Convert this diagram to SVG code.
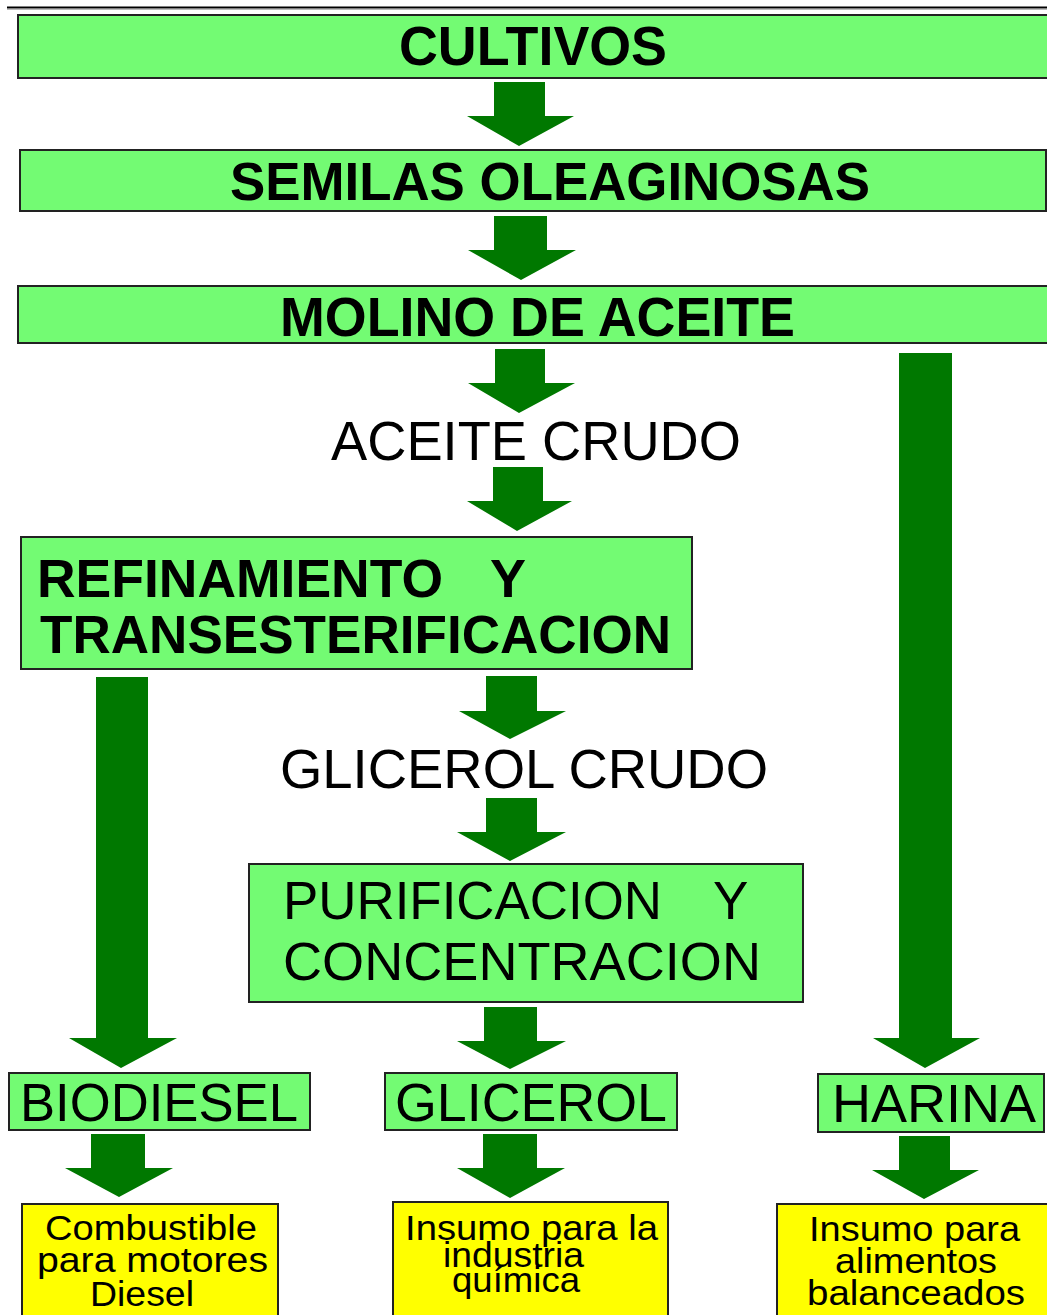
<svg xmlns="http://www.w3.org/2000/svg" width="1047" height="1315" viewBox="0 0 1047 1315">
<style>
.g{fill:#73FB73;stroke:#222;stroke-width:2}
.y{fill:#FFFF00;stroke:#222;stroke-width:2}
.t{font-family:"Liberation Sans",Arial,sans-serif;fill:#000}
.b{font-weight:bold}
.a{fill:#007800}
</style>
<rect width="1047" height="1315" fill="#fff"/>
<line x1="7" y1="7.5" x2="1047" y2="7.5" stroke="#000" stroke-width="2"/>
<line x1="7" y1="9.5" x2="1047" y2="9.5" stroke="#bbb" stroke-width="1"/>

<g id="connectors">
<polygon class="a" points="494,82 545,82 545,116 574,116 519,146 467,116 494,116"/>
<polygon class="a" points="494,216 547,216 547,250 576,250 521,280 468,250 494,250"/>
<polygon class="a" points="495,349 545,349 545,383 575,383 519,413 468,383 495,383"/>
<polygon class="a" points="493,467 543,467 543,501 572,501 517,531 467,501 493,501"/>
<polygon class="a" points="486,676 537,676 537,711 566,711 510,739 459,711 486,711"/>
<polygon class="a" points="486,798 537,798 537,832 566,832 510,861 457,832 486,832"/>
<polygon class="a" points="484,1007 537,1007 537,1041 566,1041 510,1069 457,1041 484,1041"/>
<polygon class="a" points="96,677 148,677 148,1038 177,1038 121,1068 69,1038 96,1038"/>
<polygon class="a" points="899,353 952,353 952,1038 980,1038 925,1068 873,1038 899,1038"/>
<polygon class="a" points="91,1134 145,1134 145,1168 173,1168 119,1197 65,1168 91,1168"/>
<polygon class="a" points="483,1134 537,1134 537,1168 565,1168 510,1198 457,1168 483,1168"/>
<polygon class="a" points="899,1136 950,1136 950,1170 979,1170 924,1199 872,1170 899,1170"/>
</g>

<g id="cultivos">
<rect class="g" x="18" y="15" width="1032" height="63"/>
<text class="t b" x="399" y="65" font-size="55" textLength="268" lengthAdjust="spacingAndGlyphs">CULTIVOS</text>
</g>
<g id="semillas">
<rect class="g" x="20" y="150" width="1026" height="61"/>
<text class="t b" x="230" y="200" font-size="53" textLength="640" lengthAdjust="spacingAndGlyphs">SEMILAS OLEAGINOSAS</text>
</g>
<g id="molino">
<rect class="g" x="18" y="286" width="1032" height="57"/>
<text class="t b" x="280" y="336" font-size="56" textLength="515" lengthAdjust="spacingAndGlyphs">MOLINO DE ACEITE</text>
</g>
<g id="aceite-crudo">
<text class="t" x="331" y="460" font-size="55" textLength="410" lengthAdjust="spacingAndGlyphs">ACEITE CRUDO</text>
</g>
<g id="refinamiento">
<rect class="g" x="21" y="537" width="671" height="132"/>
<text class="t b" font-size="54"><tspan x="37" y="597" textLength="406" lengthAdjust="spacingAndGlyphs">REFINAMIENTO</tspan><tspan x="490" y="597">Y</tspan></text>
<text class="t b" x="40" y="653" font-size="54" textLength="631" lengthAdjust="spacingAndGlyphs">TRANSESTERIFICACION</text>
</g>
<g id="glicerol-crudo">
<text class="t" x="280" y="788" font-size="55" textLength="488" lengthAdjust="spacingAndGlyphs">GLICEROL CRUDO</text>
</g>
<g id="purificacion">
<rect class="g" x="249" y="864" width="554" height="138"/>
<text class="t" font-size="53"><tspan x="283" y="919" textLength="379" lengthAdjust="spacingAndGlyphs">PURIFICACION</tspan><tspan x="713" y="919">Y</tspan></text>
<text class="t" x="283" y="980" font-size="53" textLength="478" lengthAdjust="spacingAndGlyphs">CONCENTRACION</text>
</g>
<g id="biodiesel">
<rect class="g" x="9" y="1073" width="301" height="57"/>
<text class="t" x="20" y="1121" font-size="54" textLength="278" lengthAdjust="spacingAndGlyphs">BIODIESEL</text>
</g>
<g id="glicerol">
<rect class="g" x="385" y="1073" width="292" height="57"/>
<text class="t" x="395" y="1121" font-size="54" textLength="272" lengthAdjust="spacingAndGlyphs">GLICEROL</text>
</g>
<g id="harina">
<rect class="g" x="818" y="1074" width="226" height="58"/>
<text class="t" x="832" y="1122" font-size="54" textLength="204" lengthAdjust="spacingAndGlyphs">HARINA</text>
</g>
<g id="combustible">
<rect class="y" x="22" y="1204" width="256" height="120"/>
<text class="t" font-size="35">
<tspan x="45" y="1240" textLength="212" lengthAdjust="spacingAndGlyphs">Combustible</tspan>
<tspan x="37" y="1272" textLength="231" lengthAdjust="spacingAndGlyphs">para motores</tspan>
<tspan x="90" y="1306" textLength="104" lengthAdjust="spacingAndGlyphs">Diesel</tspan>
</text>
</g>
<g id="insumo-quimica">
<rect class="y" x="393" y="1202" width="275" height="122"/>
<text class="t" font-size="35">
<tspan x="405" y="1240" textLength="253" lengthAdjust="spacingAndGlyphs">Insumo para la</tspan>
<tspan x="443" y="1267" textLength="141" lengthAdjust="spacingAndGlyphs">industria</tspan>
<tspan x="452" y="1292" textLength="128" lengthAdjust="spacingAndGlyphs">química</tspan>
</text>
</g>
<g id="insumo-alimentos">
<rect class="y" x="777" y="1204" width="280" height="120"/>
<text class="t" font-size="35">
<tspan x="809" y="1241" textLength="211" lengthAdjust="spacingAndGlyphs">Insumo para</tspan>
<tspan x="835" y="1273" textLength="162" lengthAdjust="spacingAndGlyphs">alimentos</tspan>
<tspan x="807" y="1305" textLength="218" lengthAdjust="spacingAndGlyphs">balanceados</tspan>
</text>
</g>
</svg>
